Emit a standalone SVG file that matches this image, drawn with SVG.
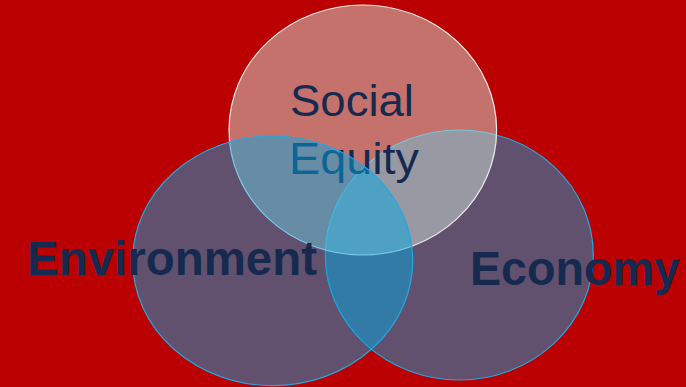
<svg xmlns="http://www.w3.org/2000/svg" width="686" height="387" viewBox="0 0 686 387">
  <style>
    .bg { fill: #BA0000; }
    .set { fill: #00AAE6; fill-opacity: 0.48; stroke: #22A8E2; stroke-width: 1.2; }
    .top { fill: #D0E2D8; fill-opacity: 0.5; stroke: #EAEAEA; stroke-width: 1.2; }
    .lbl { fill: #162A50; font-family: "Liberation Sans", Arial, sans-serif; }
    .reg { font-size: 45px; font-weight: normal; }
    .bold { font-size: 48px; font-weight: bold; }
  </style>
  <rect class="bg" x="0" y="0" width="686" height="387"/>
  <g id="economy">
    <ellipse class="set" cx="459.3" cy="255" rx="134" ry="125"/>
  </g>
  <g id="social-equity">
    <ellipse class="top" cx="362.8" cy="130" rx="133.8" ry="125"/>
    <text class="lbl reg" x="290" y="116" textLength="124" lengthAdjust="spacingAndGlyphs">Social</text>
    <text class="lbl reg" x="289" y="174" textLength="130" lengthAdjust="spacingAndGlyphs">Equity</text>
  </g>
  <g id="environment">
    <ellipse class="set" cx="272.7" cy="260.8" rx="140" ry="124.8"/>
    <text class="lbl bold" x="27" y="275" textLength="290" lengthAdjust="spacingAndGlyphs">Environment</text>
  </g>
  <g id="economy-label">
    <text class="lbl bold" x="470" y="285" textLength="210" lengthAdjust="spacingAndGlyphs">Economy</text>
  </g>
  <g id="connectors"></g>
</svg>
